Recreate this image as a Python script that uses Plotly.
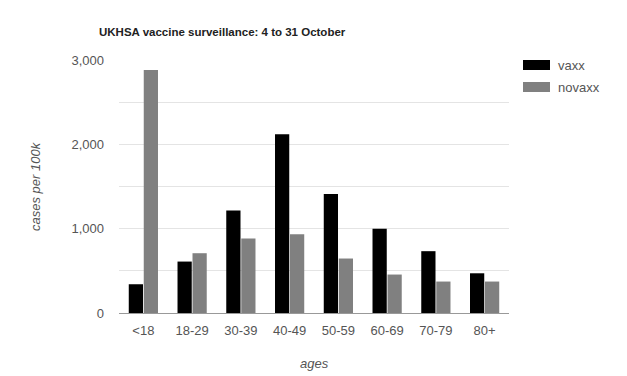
import plotly.graph_objects as go

categories = ["<18", "18-29", "30-39", "40-49", "50-59", "60-69", "70-79", "80+"]
vaxx = [341, 610, 1216, 2119, 1410, 998, 733, 471]
novaxx = [2882, 709, 884, 935, 646, 456, 373, 373]
series_names = ["vaxx", "novaxx"]
series_colors = ["#000000", "#808080"]
y_tickvals = [0, 500, 1000, 1500, 2000, 2500, 3000]
y_ticktext = ["0", "", "1,000", "", "2,000", "", "3,000"]

font_family = "Liberation Sans, Arial, sans-serif"

L, R, T, B = 119, 509, 60, 313
W, H = R - L, B - T


def px(x):
    return (x - L) / W


def py(y):
    return (B - y) / H


fig = go.Figure()
for name, vals, col in zip(series_names, [vaxx, novaxx], series_colors):
    fig.add_trace(go.Bar(x=categories, y=vals, name=name, marker=dict(color=col, line=dict(width=0)),
                         showlegend=False))

fig.update_layout(
    width=627, height=376,
    margin=dict(l=L, r=627 - R, t=T, b=376 - B),
    paper_bgcolor="white", plot_bgcolor="white",
    barmode="group", bargap=0.385, bargroupgap=0.05,
    font=dict(family=font_family, size=13, color="#555555"),
    title=dict(text="<b>UKHSA vaccine surveillance: 4 to 31 October</b>",
               x=99 / 627, xanchor="left", y=1 - 32 / 376, yanchor="middle",
               font=dict(size=11.5, color="#222222", family=font_family)),
    xaxis=dict(showgrid=False, showline=True, linecolor="#999999", linewidth=1,
               ticks="", tickfont=dict(size=13, color="#555555"), ticklabelstandoff=5),
    yaxis=dict(range=[0, 3000], tickvals=y_tickvals, ticktext=y_ticktext,
               showgrid=True, gridcolor="#e4e4e4", gridwidth=1, zeroline=False,
               showline=False, ticks="", tickfont=dict(size=13, color="#555555"),
               ticklabelstandoff=14),
)

# axis titles
fig.add_annotation(text="<i>cases per 100k</i>", x=px(35), y=py(186), xref="paper", yref="paper",
                   xanchor="center", yanchor="middle",
                   showarrow=False, textangle=-90, font=dict(size=13, color="#555555"))
fig.add_annotation(text="<i>ages</i>", x=px(314), y=py(363), xref="paper", yref="paper",
                   xanchor="center", yanchor="middle",
                   showarrow=False, font=dict(size=13, color="#555555"))

# legend
for i, (name, col) in enumerate(zip(series_names, series_colors)):
    y0 = 60 + i * 22
    fig.add_shape(type="rect", xref="paper", yref="paper",
                  x0=px(523), x1=px(550), y0=py(y0 + 10), y1=py(y0),
                  fillcolor=col, line=dict(width=0))
    fig.add_annotation(text=name, xref="paper", yref="paper", x=px(556), y=py(y0 + 5),
                       xanchor="left", yanchor="middle",
                       showarrow=False, font=dict(size=13, color="#555555"))

fig.write_html("out.html")
